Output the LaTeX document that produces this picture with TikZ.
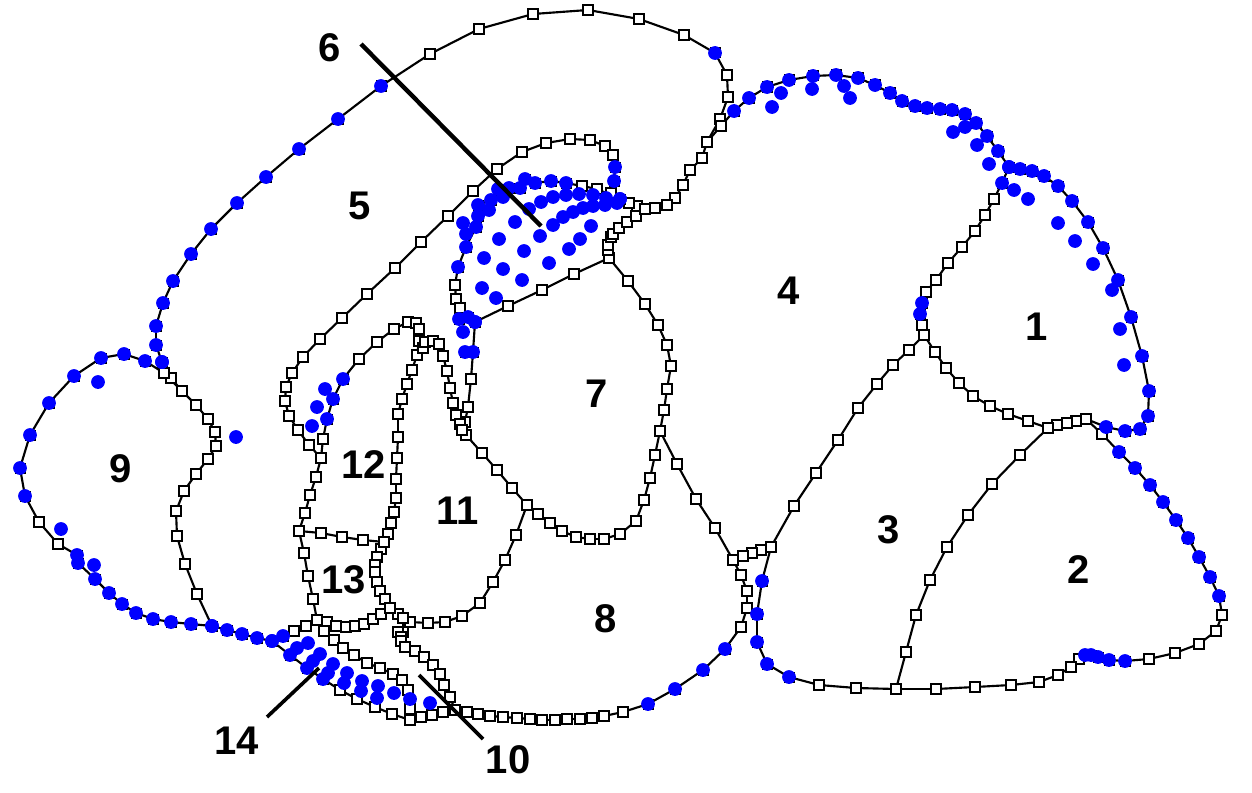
\documentclass[tikz,border=0pt]{standalone}
\usepackage{fontspec}
\setmainfont{Liberation Sans}
\definecolor{ptblue}{RGB}{0,0,255}
\tikzset{
  ln/.style={black,line width=1.6pt,line cap=round,line join=round},
  sqm/.style={draw=black,fill=white,line width=1.8pt},
  blk/.style={fill=black},
  dotm/.style={fill=ptblue},
  leader/.style={black,line width=3.3pt},
  leaderb/.style={black,line width=2.7pt},
  lab/.style={font=\bfseries\fontsize{30}{30}\selectfont,inner sep=0pt,text=black}
}
% chain of points x/y/k, k = s (square), b (blue dot on the line)
\newcommand\linepass[1]{%
  \foreach \x/\y/\k [remember=\x as \lx (initially 0),remember=\y as \ly (initially 0),count=\i] in {#1}{%
    \ifnum\i>1 \draw[ln] (\lx,\ly) -- (\x,\y);\fi}}
\newcommand\markpass[1]{%
  \foreach \x/\y/\k in {#1}{%
    \if\k s \draw[sqm] (\x-4.8,\y-4.8) rectangle (\x+4.8,\y+4.8);%
    \else \fill[blk] (\x-5.5,\y-5.5) rectangle (\x+5.5,\y+5.5);\fi}}
\newcommand\dotpass[1]{%
  \foreach \x/\y/\k in {#1}{%
    \if\k b \fill[dotm] (\x,\y) circle (6.9);\fi}}
\newcommand\allchains[1]{%
% outer loop of 5
#1{162/362/b,156/345/b,156/326/b,163/303/b,173/281/b,191/254/b,211/229/b,237/203/b,266/177/b,299/149/b,338/119/b,381/86/b,430/54/s,479/29/s,533/14/s,588/10/s,639/19/s,684/35/s,715/53/b,727/75/s,728/97/s,720/119/s,707/142/s,702/158/s,690/170/s,683/185/s,675/198/s,667/205/s,655/208/s,645/209/s,637/206/s,629/203/s,620/199/b,597/189/s,582/186/s,566/183/b,551/181/b,535/183/b,525/179/b,520/188/b,509/188/b,498/189/b,491/200/b,478/205/b,478/216/b,476/227/b,466/247/b,458/267/b,455/285/s,456/299/s,460/308/s,468/317/b,475/322/b,473/352/b,471/379/s,468/407/s,465/422/s,462/430/s,466/435/s,482/453/s,497/470/s,512/488/s,527/505/s,538/514/s,550/523/s,562/531/s,576/537/s,590/539/s,604/539/s,620/534/s,636/521/s,644/500/s,650/478/s,655/455/s,660/431/s,664/410/s,667/389/s,671/366/s,667/345/s,658/325/s,645/304/s,628/281/s,609/258/s,574/274/s,542/290/s,508/306/s,475/322/b}%
% right and bottom of 8, band below 13
#1{660/431/s,677/464/s,696/499/s,715/528/s,733/560/s,741/575/s,747/591/s,747/608/s,741/627/s,725/649/b,703/670/b,675/689/b,648/704/b,623/712/s,604/716/s,592/718/s,580/719/s,567/719/s,555/720/s,542/720/s,530/719/s,517/718/s,503/717/s,490/716/s,478/714/s,467/712/s,455/710/s,443/712/s,432/715/s,421/717/s,410/720/s,392/714/s,375/707/s,357/699/s,340/690/s,323/679/b,307/668/b,290/655/b,272/641/b}%
% region 9
#1{164/373/s,145/361/b,124/354/b,101/358/b,74/376/b,49/403/b,30/435/b,20/468/b,25/496/b,39/522/s,58/544/s,77/555/b,78/563/b,95/579/b,109/593/b,122/604/b,136/613/b,153/619/b,171/622/b,191/624/b,212/626/b,227/630/b,242/634/b,257/638/b,272/641/b,283/636/b,294/631/s,306/626/s,317/620/s}%
#1{162/362/b,171/378/s,182/391/s,196/405/s,208/419/s,215/432/s,216/446/s,208/459/s,196/474/s,184/491/s,176/511/s,177/536/s,185/564/s,197/594/s,212/626/b}%
#1{164/373/s,182/391/s}%
% inner loop of 5 and 6
#1{317/620/s,313/599/s,308/576/s,304/553/s,299/531/s,305/513/s,310/495/s,316/477/s,321/458/s,309/445/s,298/430/s,289/416/s,285/401/s,286/387/s,292/373/s,303/357/s,320/339/s,342/318/s,367/294/s,395/268/s,421/242/s,448/216/s,473/191/s,497/169/s,522/152/s,546/143/s,570/139/s,590/140/s,605/146/s,613/155/s,615/167/b,614/181/b,611/193/s,620/199/b}%
% 12 / 11
#1{321/458/s,323/439/s,327/419/b,333/399/b,343/379/b,359/359/s,377/342/s,394/329/s,408/322/s,416/323/s,419/329/s,419/341/s,417/355/s,412/370/s,407/384/s,402/399/s,398/414/s,398/437/s,397/458/s,396/479/s,396/498/s,394/512/s,391/523/s,388/534/s,384/542/s,381/549/s,377/557/s,375/565/s,375/572/s,377/582/s,380/591/s,385/599/s,390/608/s,398/614/s,403/618/s,410/622/s,428/623/s,445/622/s,462/616/s,480/603/s,493/582/s,505/560/s,516/535/s,527/505/s}%
#1{419/341/s,423/348/s,425/342/s,433/341/s,439/344/s,443/356/s,447/371/s,450/388/s,453/403/s,456/415/s,460/424/s,462/430/s}%
% 13
#1{299/531/s,321/533/s,342/537/s,363/540/s,384/542/s}%
#1{317/620/s,327/622/s,336/626/s,346/627/s,355/626/s,364/624/s,373/619/s,381/614/s,390/608/s}%
% 10 / 14 region
#1{317/620/s,324/631/s,334/640/s,343/648/s,354/655/s,367/663/s,380/668/s,393/674/s,402/680/s,408/690/s,410/709/s,410/720/s}%
#1{403/618/s,403/632/s,398/632/s,401/637/s,401/641/s,405/647/s,415/651/s,424/657/s,433/665/s,440/674/s,444/685/s,450/697/s,455/710/s}%
% 4 and 3 left
#1{707/142/s,721/126/s,734/111/b,749/98/b,767/87/b,789/80/b,813/76/b,836/75/b,858/78/b,875/85/b,890/93/b,902/101/b,915/106/b,927/108/b,940/109/b,952/110/b,965/114/b,976/123/b,987/136/b,998/151/b,1009/167/b,1002/183/b,994/199/s,985/215/s,975/231/s,962/247/s,948/263/s,936/280/s,926/292/s,922/303/b,920/314/b,922/325/s,924/335/s,909/350/s,893/365/s,877/384/s,858/408/s,838/440/s,816/473/s,794/506/s,771/547/s,761/550/s,752/553/s,743/556/s,733/560/s}%
% 1
#1{1009/167/b,1020/169/b,1032/171/b,1044/176/b,1058/186/b,1072/201/b,1088/222/b,1103/248/b,1118/280/b,1131/317/b,1142/356/b,1149/391/b,1148/416/b,1140/429/b,1125/431/b,1106/427/b,1086/419/s,1076/421/s,1067/423/s,1057/425/s,1048/428/s,1028/421/s,1008/414/s,990/406/s,973/396/s,959/383/s,946/368/s,935/352/s,924/335/s}%
% 2
#1{1086/419/s,1102/434/s,1119/452/b,1135/468/b,1150/485/b,1163/502/b,1176/520/b,1188/538/b,1199/557/b,1210/577/b,1219/596/b,1222/615/s,1216/631/s,1199/644/s,1175/653/s,1149/659/s,1125/661/b,1109/660/b,1098/657/b,1091/655/b,1085/655/b,1079/659/s,1071/667/s,1058/675/s,1039/682/s,1011/685/s,975/687/s,936/689/s,896/689/s,856/688/s,819/685/s,789/677/b,767/664/b,757/642/b,757/614/b,762/581/b,771/547/s}%
% 3
#1{896/689/s,906/652/s,916/615/s,930/580/s,947/547/s,968/515/s,992/484/s,1020/455/s,1048/428/s}%
% cusp of 7
#1{609/258/s,608/250/s,608/245/s,611/237/s,613/234/s,619/228/s,627/222/s,636/216/s,645/209/s}%
% two dots off the line with the black square beneath
#1{459/319/b}#1{465/352/b}%
}
\newcommand\freedots[1]{\foreach \x/\y in {#1}{\fill[dotm] (\x,\y) circle (6.9);}}
\begin{document}
\begin{tikzpicture}[x=0.75pt,y=-0.75pt]
\useasboundingbox (0,0) rectangle (1252,792);
\allchains\linepass
\allchains\markpass
\allchains\dotpass
\freedots{98/382,236/437,61/529,94/565,325/389,317/407,312/426,
463/332,463/223,466/234,489/210,503/197,
606/198,593/195,579/194,566/195,553/197,541/202,529/209,515/222,499/239,484/258,482/288,496/298,503/269,522/280,524/251,540/236,549/263,569/249,580/239,591/226,553/225,563/217,573/212,583/208,593/206,605/205,617/203,
772/107,781/93,812/89,844/86,850/98,953/132,965/127,977/145,989/164,1014/190,1028/199,1058/223,1075/241,1093/264,1112/290,1120/329,1124/365,
297/648,308/643,313/661,320/654,328/673,333/664,344/683,347/673,361/691,362/681,377/698,378/686,394/693,410/699,430/703}
% leader lines
\coordinate (l6a) at (361,44);\coordinate (l6b) at (541,226);
\coordinate (l14a) at (267,717);\coordinate (l14b) at (319,668);
\coordinate (l10a) at (419,675);\coordinate (l10b) at (483,739);
\draw[leader] (l6a) -- (l6b);
\draw[leaderb] (l14a) -- (l14b);
\draw[leaderb] (l10a) -- (l10b);
\node[lab] (n1) at (1037,327) {1};
\node[lab] (n2) at (1079,570) {2};
\node[lab] (n3) at (889,530) {3};
\node[lab] (n4) at (789,291) {4};
\node[lab] (n5) at (360,206) {5};
\node[lab] (n6) at (330,48) {6};
\node[lab] (n7) at (597,394) {7};
\node[lab] (n8) at (606,619) {8};
\node[lab] (n9) at (121,469) {9};
\node[lab] (n10) at (508,760) {10};
\node[lab] (n11) at (458,511) {11};
\node[lab] (n12) at (364,465) {12};
\node[lab] (n13) at (344,580) {13};
\node[lab] (n14) at (237,741) {14};
\end{tikzpicture}
\end{document}
